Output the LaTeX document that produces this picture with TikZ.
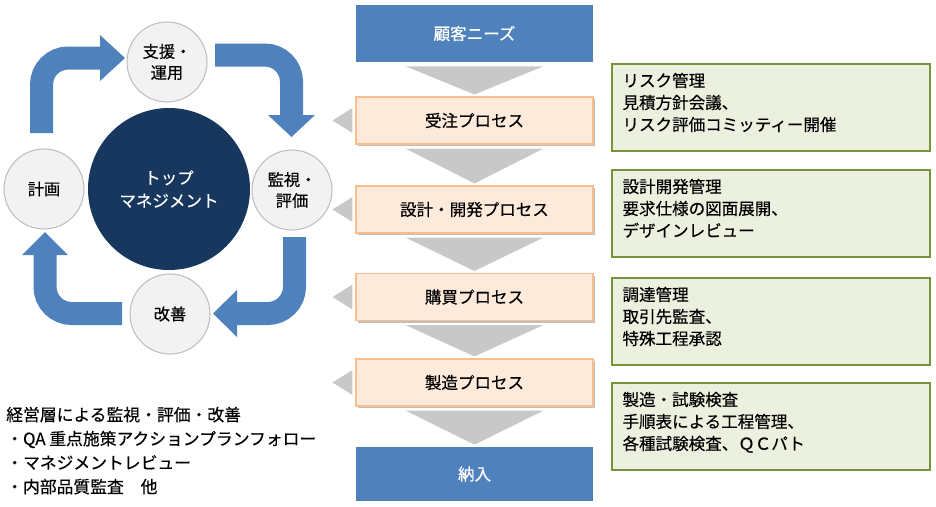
\documentclass[tikz,border=0pt]{standalone}
\usepackage{fontspec}
\setmainfont{Noto Sans CJK JP}[FakeBold=0.35]
\usetikzlibrary{shadows}
\definecolor{bblue}{HTML}{4F81BD}
\definecolor{navy}{HTML}{17375E}
\definecolor{cfill}{HTML}{F2F2F2}
\definecolor{cline}{HTML}{BFBFBF}
\definecolor{pfill}{HTML}{FDEADA}
\definecolor{pline}{HTML}{F9BE8E}
\definecolor{gfill}{HTML}{EBF1DE}
\definecolor{gline}{HTML}{77933C}
\definecolor{tri}{HTML}{C8C8C8}
\begin{document}
\begin{tikzpicture}[x=0.75pt,y=-0.75pt,
  font=\fontsize{12.4}{16.5}\selectfont,
  bluebox/.style={rectangle, fill=bblue, inner sep=0pt, minimum width=177.75pt, text=white},
  pbox/.style={rectangle, fill=pfill, draw=pline, line width=0.8pt, inner sep=0pt,
    minimum width=177.75pt, minimum height=35.25pt,
    drop shadow={shadow xshift=1.5pt, shadow yshift=-1.5pt, fill=black, opacity=0.25}},
  gbox/.style={rectangle, fill=gfill, draw=gline, line width=1.1pt, inner sep=0pt,
    minimum width=238.5pt, minimum height=65.25pt},
  gtext/.style={anchor=base west, align=left, inner sep=0pt, font=\fontsize{12.4}{16.5}\selectfont},
  scirc/.style={circle, fill=cfill, draw=cline, line width=0.8pt, minimum size=60pt, inner sep=0pt,
    align=center, font=\fontsize{12.2}{15.75}\selectfont},
  barrow/.style={draw=bblue, line width=17.25pt, rounded corners=20pt},
]
\useasboundingbox (0,0) rectangle (936,507);

% ---------- process column ----------
\node[bluebox, minimum height=42.75pt] (need) at (474.5,33.5) {顧客ニーズ};
\node[pbox] (p1) at (474.5,120.5) {受注プロセス};
\node[pbox] (p2) at (474.5,209.5) {設計・開発プロセス};
\node[pbox] (p3) at (474.5,297) {購買プロセス};
\node[pbox] (p4) at (474.5,382.5) {製造プロセス};
\node[bluebox, minimum height=40.5pt] (deliv) at (474.5,474) {納入};

\foreach \a/\b in {need/p1,p1/p2,p2/p3,p3/p4,p4/deliv}{
  \fill[tri] ([shift={(-69,4)}]\a.south) -- ([shift={(69,4)}]\a.south)
     -- ([shift={(0,-2)}]\b.north) -- cycle;
}
\foreach \a in {p1,p2,p3,p4}{
  \fill[tri] ([shift={(-3,-12.5)}]\a.west) -- ([shift={(-3,12.5)}]\a.west)
     -- ([shift={(-23,0)}]\a.west) -- cycle;
}

% ---------- green boxes ----------
\node[gbox] (g1) at (771,107.5) {};
\node[gbox] (g2) at (771,213.5) {};
\node[gbox] (g3) at (771,321.5) {};
\node[gbox] (g4) at (771,426.5) {};
% base anchor = baseline of the last line
\node[gtext] (g1t) at ([shift={(11,67.5)}]g1.north west) {リスク管理\\見積方針会議、\\リスク評価コミッティー開催};
\node[gtext] (g2t) at ([shift={(11,67.5)}]g2.north west) {設計開発管理\\要求仕様の図面展開、\\デザインレビュー};
\node[gtext] (g3t) at ([shift={(11,67.5)}]g3.north west) {調達管理\\取引先監査、\\特殊工程承認};
\node[gtext] (g4t) at ([shift={(11,67.5)}]g4.north west) {製造・試験検査\\手順表による工程管理、\\各種試験検査、ＱＣパト};

% ---------- management cycle ----------
\node[circle, fill=navy, minimum size=121.5pt, inner sep=0pt, text=white, align=center,
  font=\fontsize{12.4}{17.25}\selectfont] (topm) at (169,189) {トップ\\マネジメント};
\node[scirc] (support) at (167,62) {支援・\\運用};
\node[scirc] (monitor) at (292,190) {監視・\\評価};
\node[scirc] (plan) at (44,189) {計画};
\node[scirc] (improve) at (170,314) {改善};

\coordinate (a1s) at (41.5,133);  \coordinate (a1e) at (100,58);
\coordinate (a2s) at (215,55);    \coordinate (a2e) at (291.5,115);
\coordinate (a3s) at (294.5,237); \coordinate (a3e) at (237,313.5);
\coordinate (a4s) at (122,313.5); \coordinate (a4e) at (45,255);

\draw[barrow] (a1s) |- (a1e);
\fill[bblue] ([shift={(0,-23)}]a1e) -- ([shift={(25,0)}]a1e) -- ([shift={(0,23)}]a1e) -- cycle;
\draw[barrow] (a2s) -| (a2e);
\fill[bblue] ([shift={(-23.5,0)}]a2e) -- ([shift={(23.5,0)}]a2e) -- ([shift={(0,22)}]a2e) -- cycle;
\draw[barrow] (a3s) |- (a3e);
\fill[bblue] ([shift={(0,-23.5)}]a3e) -- ([shift={(0,23.5)}]a3e) -- ([shift={(-24,0)}]a3e) -- cycle;
\draw[barrow] (a4s) -| (a4e);
\fill[bblue] ([shift={(-23,0)}]a4e) -- ([shift={(23,0)}]a4e) -- ([shift={(0,-23)}]a4e) -- cycle;

% ---------- bottom-left text ----------
\node[anchor=base west, align=left, inner sep=0pt, font=\fontsize{12.6}{18}\selectfont] (mgmt) at (6,493)
 {経営層による監視・評価・改善\\・QA 重点施策アクションプランフォロー\\・マネジメントレビュー\\・内部品質監査　他};
\end{tikzpicture}
\end{document}
